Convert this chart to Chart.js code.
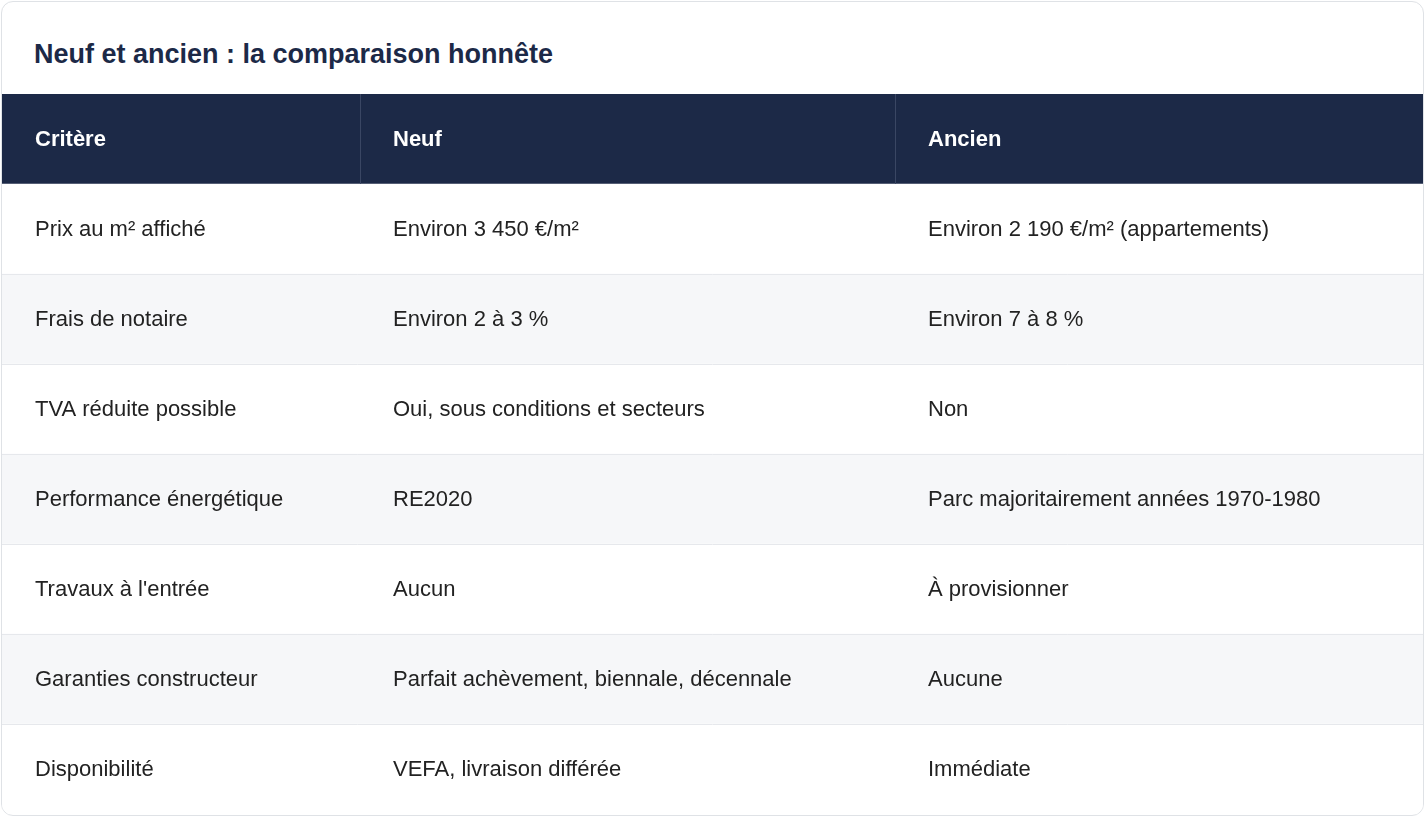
<!DOCTYPE html>
<html><head><meta charset="utf-8">
<script src="https://cdn.jsdelivr.net/npm/chart.js@4"></script>
<style>
body{margin:0;background:#fff;font-family:"Liberation Sans",Arial,sans-serif}
.card{position:absolute;left:1px;top:1px;width:1421px;height:813px;border:1px solid #dfe2e6;border-radius:12px;overflow:hidden;background:#fff}
h1{position:absolute;left:32px;top:37px;margin:0;font-size:27px;font-weight:bold;color:#1c2947}
canvas{position:absolute;left:0;top:92px}
</style></head><body>
<div class="card">
<h1>Neuf et ancien : la comparaison honnête</h1>
<canvas id="tbl" width="1421" height="720"></canvas>
</div>
<script>
const headers = ['Critère', 'Neuf', 'Ancien'];
const criteres = ['Prix au m² affiché', 'Frais de notaire', 'TVA réduite possible', 'Performance énergétique', 'Travaux à l\'entrée', 'Garanties constructeur', 'Disponibilité'];
const neuf = ['Environ 3 450 €/m²', 'Environ 2 à 3 %', 'Oui, sous conditions et secteurs', 'RE2020', 'Aucun', 'Parfait achèvement, biennale, décennale', 'VEFA, livraison différée'];
const ancien = ['Environ 2 190 €/m² (appartements)', 'Environ 7 à 8 %', 'Non', 'Parc majoritairement années 1970-1980', 'À provisionner', 'Aucune', 'Immédiate'];

const rows = ['header'].concat(criteres);
const colEdges = [0, 358, 893, 1421];
const rowColors = rows.map((r, i) => i === 0 ? '#1c2947' : (i % 2 === 0 ? '#f6f7f9' : '#ffffff'));

const cellText = {
  id: 'cellText',
  afterDatasetsDraw(chart) {
    const ctx = chart.ctx, x = chart.scales.x, y = chart.scales.y;
    ctx.save();
    ctx.textBaseline = 'middle';
    rows.forEach((r, i) => {
      const cy = y.getPixelForValue(i);
      const half = (y.getPixelForValue(1) - y.getPixelForValue(0)) / 2;
      const cells = i === 0 ? headers : [criteres[i - 1], neuf[i - 1], ancien[i - 1]];
      if (i > 0) {
        ctx.strokeStyle = '#e6e8ec'; ctx.lineWidth = 1;
        ctx.beginPath(); ctx.moveTo(0, Math.round(cy + half) + 0.5); ctx.lineTo(chart.width, Math.round(cy + half) + 0.5); ctx.stroke();
      } else {
        ctx.strokeStyle = '#3a4663'; ctx.lineWidth = 1;
        [1, 2].forEach(c => {
          const px = Math.round(x.getPixelForValue(colEdges[c])) + 0.5;
          ctx.beginPath(); ctx.moveTo(px, cy - half); ctx.lineTo(px, cy + half); ctx.stroke();
        });
      }
      ctx.font = (i === 0 ? 'bold ' : '') + '22px "Liberation Sans", Arial, sans-serif';
      ctx.fillStyle = i === 0 ? '#ffffff' : '#222222';
      cells.forEach((t, c) => ctx.fillText(t, x.getPixelForValue(colEdges[c]) + 33, cy + 1));
    });
    ctx.restore();
  }
};

new Chart(document.getElementById('tbl'), {
  type: 'bar',
  data: {
    labels: rows,
    datasets: [{
      data: rows.map(() => [colEdges[0], colEdges[3]]),
      backgroundColor: rowColors,
      barPercentage: 1,
      categoryPercentage: 1,
      borderWidth: 0
    }]
  },
  options: {
    indexAxis: 'y',
    responsive: false,
    animation: false,
    layout: { padding: 0 },
    plugins: { legend: { display: false }, tooltip: { enabled: false } },
    scales: {
      x: { display: false, min: colEdges[0], max: colEdges[3] },
      y: { display: false, offset: true }
    }
  },
  plugins: [cellText]
});
</script>
</body></html>
